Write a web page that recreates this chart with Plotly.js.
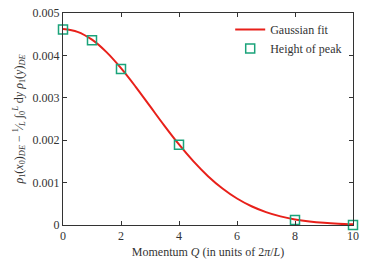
<!DOCTYPE html>
<html><head><meta charset="utf-8">
<script src="https://cdn.plot.ly/plotly-3.0.1.min.js"></script>
<style>html,body{margin:0;padding:0;background:#fff}</style>
</head><body>
<div id="chart" style="width:374px;height:262px"></div>
<script>
// Height of peak data points
const peakQ = [0, 1, 2, 4, 8, 10];
const peakH = [0.00461, 0.00436, 0.00368, 0.00189, 0.00012, 0.0000];
// Gaussian fit curve
const fitQ = [0,0.5,1,1.5,2,2.5,3,3.5,4,4.5,5,5.5,6,6.5,7,7.5,8,8.5,9,9.5,10];
const fitH = [0.00462,0.004556,0.004371,0.004077,0.003699,0.003265,0.002802,0.002339,0.001899,0.0015,0.001152,0.000861,0.000625,0.000442,0.000304,0.000203,0.000132,0.0000834,0.0000513,0.0000307,0.0000178];
const yTicks = [0, 0.001, 0.002, 0.003, 0.004, 0.005];
const yTickText = ['0','0.001','0.002','0.003','0.004','0.005'];
const xTicks = [0, 2, 4, 6, 8, 10];

const font = {family: 'Liberation Serif, DejaVu Serif, serif', size: 12, color: '#333'};
const traces = [
  {x: fitQ, y: fitH, mode: 'lines', name: 'Gaussian fit', line: {color: '#e8201a', width: 2, shape: 'spline'}},
  {x: peakQ, y: peakH, mode: 'markers', name: 'Height of peak', cliponaxis: false,
   marker: {symbol: 'square-open', size: 9, color: '#1aa37a', line: {width: 1.5, color: '#1aa37a'}}}
];
const axisCommon = {showgrid: false, zeroline: false, showline: true, linecolor: '#333', linewidth: 1,
  mirror: 'ticks', ticks: 'inside', ticklen: 4, tickcolor: '#333', tickfont: font};
const layout = {
  width: 374, height: 262,
  margin: {l: 63, r: 21, t: 13, b: 37},
  paper_bgcolor: '#fff', plot_bgcolor: '#fff',
  font: font,
  showlegend: true,
  legend: {x: 0.98, y: 0.99, xanchor: 'right', yanchor: 'top', bgcolor: 'rgba(0,0,0,0)',
    font: font, tracegroupgap: 0, itemwidth: 30},
  xaxis: Object.assign({}, axisCommon, {range: [0, 10], tickvals: xTicks,
    title: {text: 'Momentum <i>Q</i> (in units of 2<i>π</i>/<i>L</i>)', font: font, standoff: 5}}),
  yaxis: Object.assign({}, axisCommon, {range: [0, 0.005], tickvals: yTicks, ticktext: yTickText,
    title: {text: '<i>ρ</i><sub>1</sub>(<i>x</i><sub>0</sub>)<sub><i>DE</i></sub> − <sup>1</sup>⁄<sub><i>L</i></sub> ∫<sub>0</sub><sup><i>L</i></sup> d<i>y</i> <i>ρ</i><sub>1</sub>(<i>y</i>)<sub><i>DE</i></sub>', font: font, standoff: 6}})
};
Plotly.newPlot('chart', traces, layout, {staticPlot: true, displayModeBar: false});
</script>
</body></html>
